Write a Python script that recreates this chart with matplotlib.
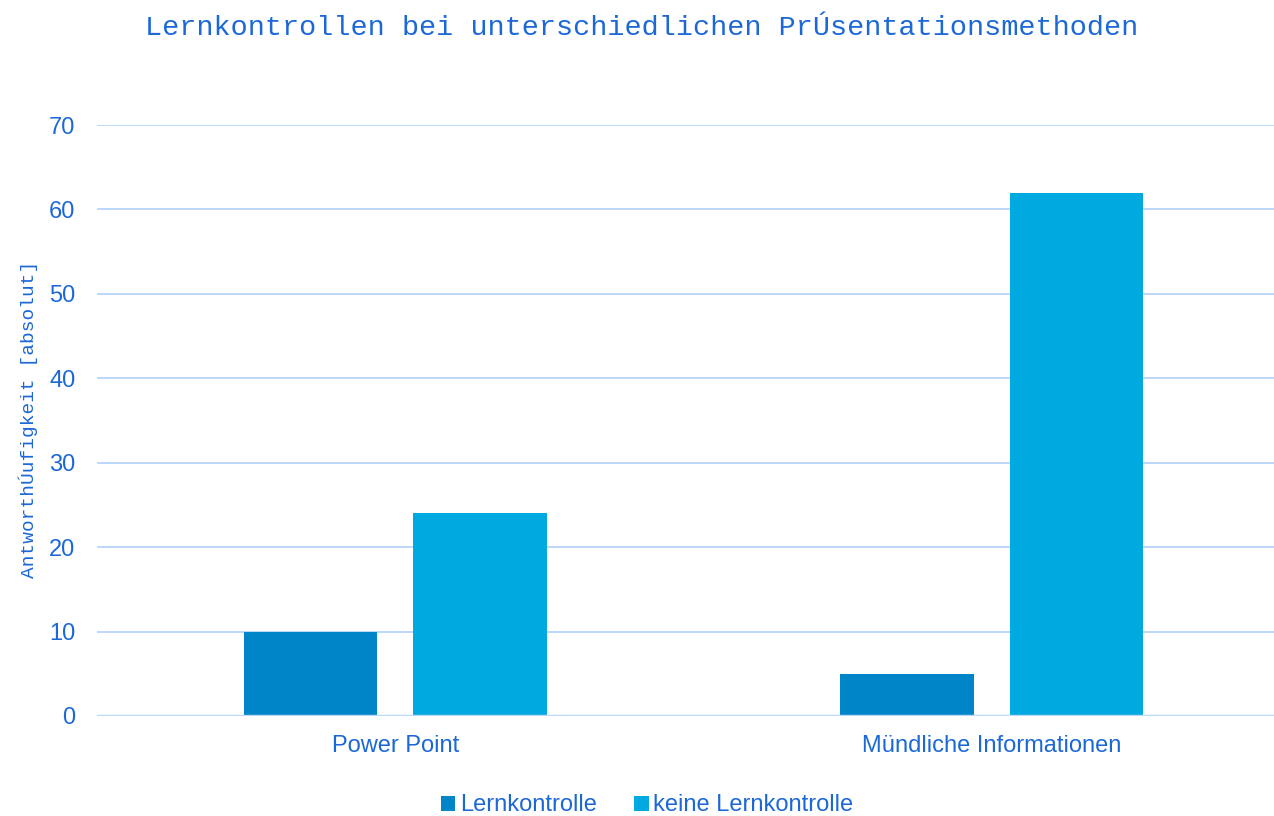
import matplotlib
matplotlib.use('Agg')
import matplotlib.pyplot as plt
import numpy as np

categories = ['Power Point', 'Mündliche Informationen']
series_names = ['Lernkontrolle', 'keine Lernkontrolle']
lernkontrolle = [10, 5]
keine_lernkontrolle = [24, 62]
y_ticks = [0, 10, 20, 30, 40, 50, 60, 70]

TEXT = '#1C68D6'
GRID = '#BCD8FA'
COLORS = ['#0086C8', '#00AAE0']

plt.rcParams['font.family'] = ['Liberation Sans', 'DejaVu Sans']

fig = plt.figure(figsize=(12.74, 8.16), dpi=100)
# plot area runs a bit past the right edge, as in the reference
ax = fig.add_axes([97 / 1274, 100 / 816, 1193 / 1274, 591 / 816])

x = np.arange(len(categories))
w = 0.224
off = 0.142
ax.bar(x - off, lernkontrolle, w, color=COLORS[0], label=series_names[0], zorder=3)
ax.bar(x + off, keine_lernkontrolle, w, color=COLORS[1], label=series_names[1], zorder=3)

ax.set_xlim(-0.5, 1.5)
ax.set_ylim(0, 70)
ax.set_yticks(y_ticks)
ax.set_xticks(x)
ax.set_xticklabels(categories)
ax.grid(axis='y', color=GRID, linewidth=1.4, zorder=0)
for s in ax.spines.values():
    s.set_visible(False)
ax.axhline(0, color=GRID, linewidth=1.7, zorder=4)
ax.tick_params(axis='both', length=0, labelsize=17, labelcolor=TEXT)
ax.tick_params(axis='y', pad=15.5)
ax.tick_params(axis='x', pad=14)

fig.text(0.504, 0.966, 'Lernkontrollen bei unterschiedlichen PrÚsentationsmethoden',
         ha='center', va='center', fontsize=20.5, color=TEXT,
         family='Liberation Mono')
fig.text(0.022, 0.486, 'AntworthÚufigkeit [absolut]', rotation=90,
         ha='center', va='center', fontsize=14, color=TEXT,
         family='Liberation Mono')

leg = fig.legend(loc='center', bbox_to_anchor=(0.508, 0.013), ncol=2,
                 frameon=False, fontsize=17, handlelength=0.6,
                 handleheight=0.6, handletextpad=0.2, columnspacing=1.6)
for t in leg.get_texts():
    t.set_color(TEXT)

fig.savefig('out.png', dpi=100)
